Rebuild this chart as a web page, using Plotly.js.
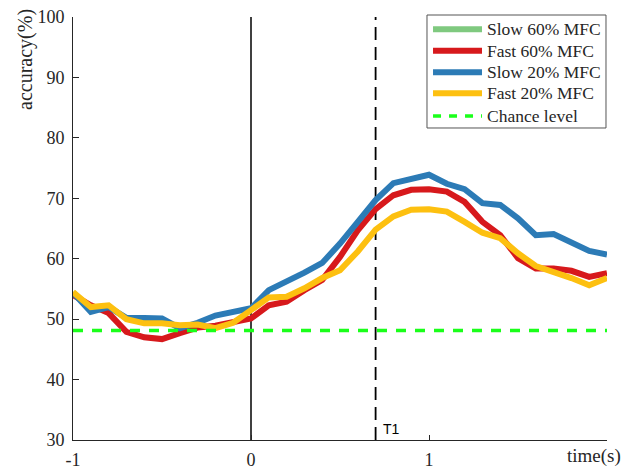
<!DOCTYPE html>
<html>
<head>
<meta charset="utf-8">
<script src="https://cdn.plot.ly/plotly-3.0.1.min.js"></script>
<style>html,body{margin:0;padding:0;background:#fff}#chart{width:626px;height:469px}</style>
</head>
<body>
<div id="chart"></div>
<script>
// time axis (s), step 0.1 from -1 to 2
const time = [-1.0,-0.9,-0.8,-0.7,-0.6,-0.5,-0.4,-0.3,-0.2,-0.1,0.0,0.1,0.2,0.3,0.4,0.5,0.6,0.7,0.8,0.9,1.0,1.1,1.2,1.3,1.4,1.5,1.6,1.7,1.8,1.9,2.0];
const slow60 = [null];
const fast60 = [54.0,52.3,51.0,47.9,47.0,46.7,47.7,48.6,48.9,49.6,50.1,52.3,52.9,54.8,56.5,60.3,64.7,68.2,70.5,71.4,71.5,71.1,69.4,66.1,63.9,60.1,58.4,58.4,58.0,57.0,57.6];
const slow20 = [54.4,51.2,52.0,50.2,50.2,50.1,48.5,49.4,50.6,51.1,51.8,54.8,56.2,57.7,59.3,62.5,66.1,69.7,72.5,73.1,73.9,72.4,71.5,69.2,68.9,66.7,63.9,64.1,62.6,61.3,60.7];
const fast20 = [54.5,52.0,52.3,50.0,49.3,49.3,49.0,49.1,48.5,49.4,51.5,53.6,53.7,55.1,56.8,58.1,61.2,64.8,67.0,68.1,68.2,67.8,66.1,64.3,63.4,60.9,58.8,57.9,56.8,55.6,56.8];
const chanceLevel = 48.1;
const chanceX = [-1, 2];
const onsetTime = 0;
const t1Time = 0.7;
const xTickVals = [-1, 0, 1];
const xTickText = ['-1', '0', '1'];
const yTickVals = [30, 40, 50, 60, 70, 80, 90, 100];
const seriesNames = ['Slow 60% MFC', 'Fast 60% MFC', 'Slow 20% MFC', 'Fast 20% MFC', 'Chance level'];
const seriesColors = ['#7fc97f', '#d7191c', '#2c7bb6', '#fdc010', '#1aff1a'];

const serif = 'Liberation Serif';
const ink = '#262626';
const chanceDash = '10px,9px';
const traces = [
  {x: time.slice(0,1), y: slow60, name: seriesNames[0], mode: 'lines', line: {color: seriesColors[0], width: 6}, showlegend: false},
  {x: time, y: fast60, name: seriesNames[1], mode: 'lines', line: {color: seriesColors[1], width: 6}, showlegend: false},
  {x: time, y: slow20, name: seriesNames[2], mode: 'lines', line: {color: seriesColors[2], width: 6}, showlegend: false},
  {x: time, y: fast20, name: seriesNames[3], mode: 'lines', line: {color: seriesColors[3], width: 6}, showlegend: false},
  {x: chanceX, y: chanceX.map(() => chanceLevel), name: seriesNames[4], mode: 'lines', line: {color: seriesColors[4], width: 3.5, dash: chanceDash}, showlegend: false}
];

// hand-built legend box (paper coordinates) to match the original row spacing
const legRows = [0.9709, 0.9203, 0.8693, 0.8196, 0.7660];
const shapes = [
  {type: 'line', xref: 'x', yref: 'y', x0: onsetTime, x1: onsetTime, y0: 30, y1: 100, line: {color: '#000', width: 1.5}, layer: 'below'},
  {type: 'line', xref: 'x', yref: 'y', x0: t1Time, x1: t1Time, y0: 30, y1: 100, line: {color: '#000', width: 1.8, dash: '13px,7px'}, layer: 'below'},
  {type: 'rect', xref: 'paper', yref: 'paper', x0: 0.6629, x1: 0.9981, y0: 0.7376, y1: 1.0047, line: {color: '#555', width: 1}, fillcolor: '#fff', layer: 'above'}
];
const annotations = [
  {text: 'accuracy(%)', xref: 'paper', yref: 'paper', x: -0.09, y: 0.9007, xanchor: 'center', yanchor: 'middle', textangle: -90, showarrow: false, font: {family: serif, size: 20, color: ink}},
  {text: 'time(s)', xref: 'paper', yref: 'paper', x: 1.028, y: -0.0378, xanchor: 'right', yanchor: 'middle', borderpad: 0, showarrow: false, font: {family: serif, size: 19, color: ink}},
  {text: 'T1', xref: 'x', yref: 'paper', x: t1Time, y: 0.003, xanchor: 'left', yanchor: 'bottom', xshift: 5, showarrow: false, font: {family: 'Liberation Sans', size: 14, color: '#000'}}
];
seriesNames.forEach((nm, i) => {
  const isChance = i === 4;
  shapes.push({type: 'line', xref: 'paper', yref: 'paper', x0: 0.6742, x1: 0.7659, y0: legRows[i], y1: legRows[i],
    line: {color: seriesColors[i], width: isChance ? 3.5 : 6, dash: isChance ? '8px,8px' : 'solid'}, layer: 'above'});
  annotations.push({text: nm, xref: 'paper', yref: 'paper', x: 0.7734, y: legRows[i], xanchor: 'left', yanchor: 'middle',
    showarrow: false, borderpad: 0, font: {family: serif, size: 17.5, color: ink}});
});

const layout = {
  width: 626, height: 469,
  margin: {l: 73, r: 19, t: 17, b: 29},
  paper_bgcolor: '#fff', plot_bgcolor: '#fff',
  font: {family: serif, size: 18, color: ink},
  showlegend: false,
  xaxis: {
    range: [-1, 2], showgrid: false, zeroline: false,
    showline: true, linecolor: ink, linewidth: 1,
    ticks: 'inside', ticklen: 5, tickcolor: ink,
    tickvals: xTickVals, ticktext: xTickText, ticklabelstandoff: 3,
    tickfont: {family: serif, size: 18, color: ink}
  },
  yaxis: {
    range: [30, 100], showgrid: false, zeroline: false,
    showline: true, linecolor: ink, linewidth: 1,
    ticks: 'inside', ticklen: 6, tickcolor: ink,
    tickvals: yTickVals, ticklabelstandoff: 4,
    tickfont: {family: serif, size: 18, color: ink}
  },
  shapes: shapes,
  annotations: annotations
};

Plotly.newPlot('chart', traces, layout, {displayModeBar: false, staticPlot: true});
</script>
</body>
</html>
